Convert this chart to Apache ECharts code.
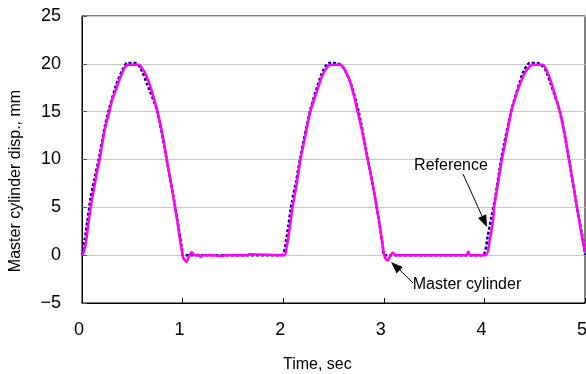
<!DOCTYPE html>
<html>
<head>
<meta charset="utf-8">
<script src="https://cdn.jsdelivr.net/npm/echarts@6/dist/echarts.min.js"></script>
<style>
html,body{margin:0;padding:0;background:#fff;}
#chart{width:586px;height:374px;}
</style>
</head>
<body>
<div id="chart"></div>
<script>
// ---- data ----
const masterTime = [
  0, 0.02, 0.04, 0.063, 0.086, 0.12, 0.153, 0.176, 0.2, 0.235, 0.272, 0.302, 0.345, 0.385, 0.425, 0.458,
  0.567, 0.6, 0.633, 0.683, 0.723, 0.75, 0.783, 0.816, 0.842, 0.882, 0.925, 0.958, 0.988, 1.008, 1.04,
  1.065, 1.09, 1.12, 1.16, 1.18, 1.2, 1.3, 1.4, 1.42, 1.64, 1.66, 2.013,
  2.03, 2.06, 2.093, 2.13, 2.172, 2.22, 2.27, 2.33, 2.39, 2.44, 2.47, 2.57, 2.61, 2.66, 2.7, 2.74,
  2.79, 2.84, 2.89, 2.93, 2.97, 3.0, 3.02, 3.04, 3.065, 3.09, 3.12, 3.5, 3.82, 3.84, 3.86, 4.015,
  4.05, 4.084, 4.097, 4.13, 4.174, 4.22, 4.267, 4.33, 4.4, 4.45, 4.48, 4.58, 4.62, 4.66, 4.7, 4.75,
  4.8, 4.84, 4.88, 4.92, 4.96, 5.0
];
const masterDisp = [
  0, 0.4, 1.4, 3.2, 5.0, 7.0, 8.9, 10.0, 11.6, 13.5, 15.0, 16.3, 17.5, 18.7, 19.6, 19.9,
  19.9, 19.5, 18.9, 17.5, 16.1, 15.0, 13.5, 11.7, 10.0, 7.7, 5.0, 2.8, 0.7, -0.3, -0.7,
  -0.1, 0.3, 0.0, 0.05, -0.2, 0.0, 0.0, -0.1, 0.0, 0.0, 0.1, 0,
  0.6, 2.5, 5.0, 7.2, 10.0, 12.5, 15.0, 17.0, 18.8, 19.7, 19.9, 19.9, 19.4, 18.3, 16.8, 15.0,
  12.7, 10.0, 7.4, 5.0, 2.4, 0.2, -0.4, -0.55, 0.0, 0.25, 0.0, 0.0, 0.0, 0.35, 0.0, 0,
  1.4, 3.5, 5.0, 7.2, 10.0, 12.5, 15.0, 17.2, 19.0, 19.7, 19.9, 19.9, 19.3, 18.2, 16.8, 15.0,
  12.6, 10.0, 7.6, 5.0, 2.5, 0.3
];
const refTime = [
  0, 0.027, 0.053, 0.086, 0.12, 0.17, 0.23, 0.27, 0.34, 0.4, 0.45, 0.53, 0.58, 0.65, 0.75, 0.84, 0.93, 0.995, 1.0,
  1.985, 2.03, 2.05, 2.085, 2.13, 2.17, 2.27, 2.38, 2.45, 2.53, 2.6, 2.67, 2.75, 2.84, 2.93, 2.995, 3.0,
  3.98, 4.035, 4.068, 4.1, 4.17, 4.27, 4.38, 4.45, 4.53, 4.6, 4.65, 4.75, 4.84, 4.92, 4.99, 5.0
];
const refDisp = [
  0, 1.6, 3.5, 6.0, 7.8, 10.2, 13.6, 15.3, 17.8, 19.3, 20.1, 20.1, 19.6, 17.8, 15.0, 10.1, 4.8, 0.6, 0,
  0, 1.6, 3.0, 5.5, 7.8, 10.2, 15.2, 18.9, 20.1, 20.1, 19.6, 18.0, 15.0, 10.1, 5.0, 0.6, 0,
  0, 2.1, 3.9, 5.5, 10.2, 15.2, 19.0, 20.1, 20.1, 19.5, 18.2, 15.0, 10.1, 5.0, 1.0, 0
];
const xTicks = [0, 1, 2, 3, 4, 5];
const yTicks = [-5, 0, 5, 10, 15, 20, 25];
const seriesNames = ['Reference', 'Master cylinder'];
const xTitle = 'Time, sec';
const yTitle = 'Master cylinder disp., mm';

// ---- chart ----
const chart = echarts.init(document.getElementById('chart'), null, {renderer: 'canvas'});
const pair = (t, v) => t.map((x, i) => [x, v[i]]);
const font = '"Liberation Sans", Arial, sans-serif';

chart.setOption({
  animation: false,
  backgroundColor: '#fff',
  grid: {left: 82, right: 1, top: 16, bottom: 71, show: true, borderColor: '#000', borderWidth: 1,
    containLabel: false, outerBoundsMode: 'none'},
  xAxis: {
    type: 'value', min: xTicks[0], max: xTicks[xTicks.length - 1], interval: 1,
    axisLine: {onZero: false, lineStyle: {color: '#000', width: 1}},
    axisTick: {inside: true, length: 5, lineStyle: {color: '#000'}},
    splitLine: {show: false},
    axisLabel: {color: '#000', fontSize: 18, fontFamily: font, margin: 18, padding: [0, 6, 0, 0]}
  },
  yAxis: {
    type: 'value', min: yTicks[0], max: yTicks[yTicks.length - 1], interval: 5,
    axisLine: {show: true, onZero: false, lineStyle: {color: '#000', width: 1}},
    axisTick: {show: true, inside: true, length: 5, lineStyle: {color: '#555'}},
    splitLine: {show: true, lineStyle: {color: '#c8c8c8', width: 1}},
    axisLabel: {color: '#000', fontSize: 18, fontFamily: font, margin: 21,
      formatter: v => String(v).replace('-', '\u2212')}
  },
  series: [
    {
      name: seriesNames[0], type: 'line', data: pair(refTime, refDisp), showSymbol: false, smooth: 0.2,
      lineStyle: {color: '#000080', width: 2.5, type: [3, 2]}, z: 2
    },
    {
      name: seriesNames[1], type: 'line', data: pair(masterTime, masterDisp), showSymbol: false, smooth: 0.25,
      lineStyle: {color: '#ff00ff', width: 2.5}, z: 3
    }
  ],
  graphic: [
    {type: 'text', left: 283, top: 357, style: {text: xTitle, font: '16px ' + font, fill: '#000'}},
    {type: 'text', x: 16, y: 181, rotation: Math.PI / 2,
      style: {text: yTitle, font: '16px ' + font, fill: '#000', align: 'center', verticalAlign: 'middle'}},
    {type: 'text', x: 451, y: 166, style: {text: seriesNames[0], font: '16px ' + font, fill: '#000', align: 'center', verticalAlign: 'middle'}, z: 10},
    {type: 'line', shape: {x1: 463, y1: 174, x2: 482, y2: 216}, style: {stroke: '#000', lineWidth: 1}, z: 10},
    {type: 'polygon', shape: {points: [[487, 227], [478.0, 218.0], [486.2, 214.2]]}, style: {fill: '#000'}, z: 10},
    {type: 'text', x: 467, y: 285, style: {text: seriesNames[1], font: '16px ' + font, fill: '#000', align: 'center', verticalAlign: 'middle'}, z: 10},
    {type: 'line', shape: {x1: 413, y1: 283, x2: 400, y2: 270}, style: {stroke: '#000', lineWidth: 1}, z: 10},
    {type: 'polygon', shape: {points: [[391, 262], [402.8, 267.0], [396.6, 273.5]]}, style: {fill: '#000'}, z: 10}
  ]
});
</script>
</body>
</html>
